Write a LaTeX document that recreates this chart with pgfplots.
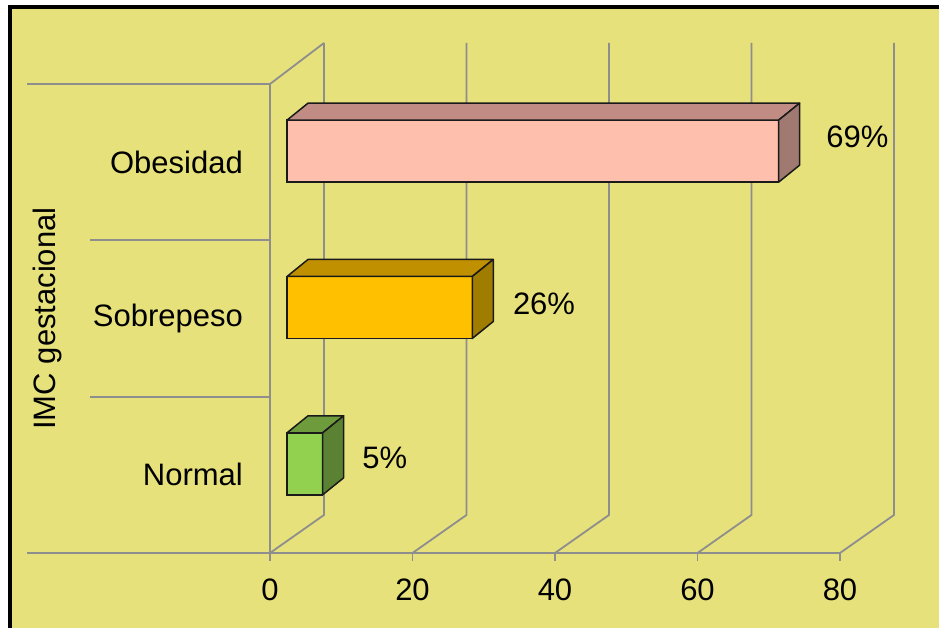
\documentclass[border=0pt]{standalone}
\usepackage{pgfplots}
\pgfplotsset{compat=1.18}
\usepackage{fontspec}
\setmainfont{Liberation Sans}
\definecolor{bg}{HTML}{E6E17A}
\definecolor{gridc}{HTML}{8E8E8E}
\definecolor{edge}{HTML}{1A1A1A}
\definecolor{obF}{HTML}{FFBFAD}
\definecolor{obT}{HTML}{C08C84}
\definecolor{obS}{HTML}{A07A70}
\definecolor{soF}{HTML}{FFC000}
\definecolor{soT}{HTML}{C09000}
\definecolor{soS}{HTML}{A07C00}
\definecolor{noF}{HTML}{92D050}
\definecolor{noT}{HTML}{6E9C3C}
\definecolor{noS}{HTML}{5A8232}
\pgfdeclareplotmark{void}{}
\pgfplotsset{
  front3d/.style={xbar, bar width=62pt, fill=#1, draw=edge, line width=1.5pt,
    xshift=17pt, yshift=11pt, point meta=x,
    nodes near coords={\pgfmathprintnumber{\pgfplotspointmeta}\%},
    every node near coord/.append style={text=black, anchor=west, inner sep=0pt,
      font=\fontsize{31}{36}\selectfont}},
  face3d/.style n args={2}{%
    scatter, only marks, mark=void, scatter src=x,
    xshift=17pt, yshift=11pt,
    scatter/use mapped color={},
    visualization depends on={rawx \as \barval},
    scatter/@pre marker code/.append code={%
      \pgfkeys{/pgf/fpu=false}%
      \pgfmathsetmacro\L{\barval*7.125}%
      \pgfmathsetmacro\xa{21-\L}%
      \filldraw[fill=#1, draw=edge, line width=1.5pt, line join=round]
        (-\L pt,31pt) -- (0pt,31pt) -- (21pt,48pt) -- (\xa pt,48pt) -- cycle;
      \filldraw[fill=#2, draw=edge, line width=1.5pt, line join=round]
        (0pt,-31pt) -- (0pt,31pt) -- (21pt,48pt) -- (21pt,-14pt) -- cycle;
    },
  },
}
\begin{document}
\begin{tikzpicture}
\useasboundingbox (0,0) rectangle (939pt,628pt);
\fill[white] (0,0) rectangle (939pt,628pt);
\fill[bg] (9.5pt,0) rectangle (939pt,620.5pt);
\draw[black, line width=4pt] (9.5pt,0) -- (9.5pt,620.5pt) -- (939pt,620.5pt);
\begin{axis}[
  at={(270pt,75pt)}, anchor=south west,
  scale only axis, width=570pt, height=469pt,
  xmin=0, xmax=80, ymin=-0.5, ymax=2.5,
  clip=false,
  axis x line=bottom, axis y line=left,
  axis line style={gridc, line width=1.8pt, -},
  xtick={0,20,40,60,80},
  ytick={0,1,2}, yticklabels={Normal,Sobrepeso,Obesidad},
  xtick align=outside, ytick align=inside,
  major tick length=8pt,
  x tick style={gridc, line width=1.8pt},
  y tick style={draw=none},
  /pgf/number format/assume math mode=true,
  tick label style={font=\fontsize{31}{36}\selectfont, text=black},
  xticklabel style={inner sep=0pt, anchor=north, yshift=-18pt},
  yticklabel style={inner sep=0pt, anchor=east, xshift=-27pt},
  ylabel={IMC gestacional},
  every axis y label/.style={at={(axis description cs:0,0.5)}, xshift=-223pt,
    rotate=90, anchor=center, font=\fontsize{31}{36}\selectfont},
]
% walls and floor grid
\pgfplotsinvokeforeach{0,20,40,60,80}{
  \draw[gridc, line width=1.8pt] (axis cs:#1,-0.5) -- ++(54pt,38pt) -- ++(0pt,472pt);
}
\draw[gridc, line width=1.8pt] (axis cs:0,2.5) -- ++(54pt,41pt);
\draw[gridc, line width=1.8pt] (axis cs:0,-0.5) -- ++(-243pt,0pt);
\draw[gridc, line width=1.8pt] (axis cs:0,2.5) -- ++(-243pt,0pt);
\draw[gridc, line width=1.8pt] (axis cs:0,0.5) -- ++(-180pt,0pt);
\draw[gridc, line width=1.8pt] (axis cs:0,1.5) -- ++(-180pt,0pt);
% Obesidad
\addplot[front3d=obF, every node near coord/.append style={xshift=47pt, yshift=14pt}] coordinates {(69,2)};
\addplot[face3d={obT}{obS}] coordinates {(69,2)};
% Sobrepeso
\addplot[front3d=soF, every node near coord/.append style={xshift=40pt, yshift=4pt}] coordinates {(26,1)};
\addplot[face3d={soT}{soS}] coordinates {(26,1)};
% Normal
\addplot[front3d=noF, every node near coord/.append style={xshift=39pt, yshift=6pt}] coordinates {(5,0)};
\addplot[face3d={noT}{noS}] coordinates {(5,0)};
\end{axis}
\end{tikzpicture}
\end{document}
